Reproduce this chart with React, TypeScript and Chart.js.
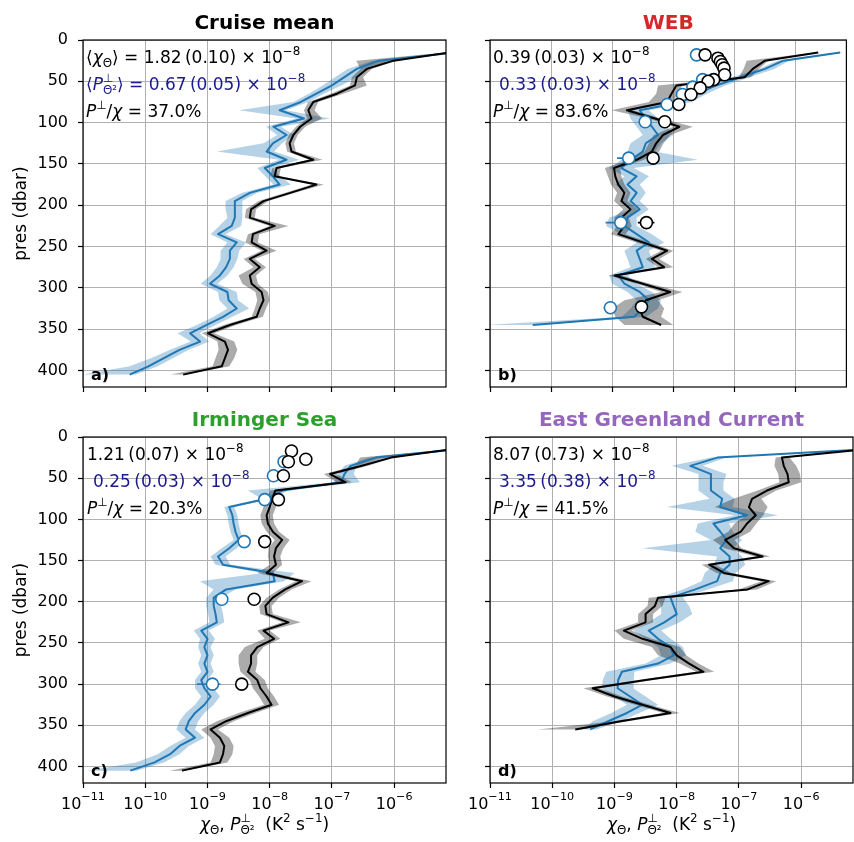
import React, { useEffect, useRef } from "react";
import { Chart, registerables } from "chart.js";

Chart.register(...registerables);

const FONT = "'DejaVu Sans', 'Noto Sans', sans-serif";
const BLUE = "#1f77b4";
const NAVY = "#1a1a8c";
const GRID = "#b0b0b0";
const W = 854;
const H = 842;

// ---- axes ----
const X_TICKS = [1e-11, 1e-10, 1e-9, 1e-8, 1e-7, 1e-6];
const X_TICK_EXP = ["−11", "−10", "−9", "−8", "−7", "−6"];
const Y_TICKS = [0, 50, 100, 150, 200, 250, 300, 350, 400];
const X_MIN = 1e-11;
const X_MAX = 6.8e-6;
const Y_MIN = 0;
const Y_MAX = 420;

// ---- pressure levels (dbar) ----
const PRES_FULL = [15, 25, 35, 45, 55, 65, 75, 85, 95, 105, 115, 125, 135, 145, 155, 165, 175, 185, 195, 205, 215, 225, 235, 245, 255, 265, 275, 285, 295, 305, 315, 325, 335, 345, 355, 365, 375, 385, 395, 405];
const PRES_WEB = [15, 25, 35, 45, 55, 65, 75, 85, 95, 105, 115, 125, 135, 145, 155, 165, 175, 185, 195, 205, 215, 225, 235, 245, 255, 265, 275, 285, 295, 305, 315, 325, 335, 345];
const PRES_EGC = [15, 25, 35, 45, 55, 65, 75, 85, 95, 105, 115, 125, 135, 145, 155, 165, 175, 185, 195, 205, 215, 225, 235, 245, 255, 265, 275, 285, 295, 305, 315, 325, 335, 345, 355];

// ---- values are log10(K^2 s^-1); band widths in decades ----
// a) Cruise mean
const MEAN_CHI = [-5.1, -6.01, -6.44, -6.6, -6.63, -6.92, -7.3, -7.38, -7.33, -7.51, -7.62, -7.68, -7.65, -7.3, -7.89, -7.92, -7.25, -7.67, -8.1, -8.3, -8.32, -7.92, -8.27, -8.29, -8.05, -8.32, -8.16, -8.32, -8.29, -8.13, -8.1, -8.16, -8.21, -8.64, -8.99, -8.72, -8.67, -8.72, -8.77, -9.39];
const MEAN_CHI_LO = [0.05, 0.6, 0.1, 0.08, 0.08, 0.1, 0.08, 0.07, 0.07, 0.07, 0.07, 0.07, 0.07, 0.07, 0.07, 0.07, 0.07, 0.08, 0.08, 0.08, 0.08, 0.08, 0.08, 0.1, 0.08, 0.1, 0.1, 0.18, 0.15, 0.1, 0.1, 0.08, 0.08, 0.1, 0.1, 0.12, 0.15, 0.15, 0.15, 0.2];
const MEAN_CHI_HI = [0.05, 0.05, 0.08, 0.1, 0.19, 0.1, 0.08, 0.1, 0.17, 0.08, 0.07, 0.07, 0.07, 0.15, 0.07, 0.07, 0.12, 0.08, 0.08, 0.08, 0.08, 0.22, 0.1, 0.1, 0.16, 0.08, 0.1, 0.1, 0.1, 0.1, 0.1, 0.1, 0.1, 0.1, 0.1, 0.15, 0.15, 0.15, 0.12, 0.05];
const MEAN_PERP = [-5.0, -6.25, -6.6, -6.8, -7.0, -7.25, -7.5, -7.84, -7.45, -7.94, -7.73, -7.95, -8.05, -7.73, -8.08, -7.95, -7.84, -8.32, -8.56, -8.56, -8.56, -8.61, -8.83, -8.53, -8.64, -8.64, -8.7, -8.8, -8.96, -8.68, -8.66, -8.53, -8.75, -9.02, -9.28, -9.12, -9.45, -9.7, -9.95, -10.25];
const MEAN_PERP_LO = [0.05, 0.1, 0.15, 0.15, 0.15, 0.12, 0.12, 0.65, 0.12, 0.12, 0.15, 0.15, 0.8, 0.12, 0.12, 0.12, 0.1, 0.12, 0.15, 0.15, 0.12, 0.2, 0.12, 0.15, 0.15, 0.15, 0.15, 0.15, 0.15, 0.15, 0.15, 0.15, 0.15, 0.15, 0.2, 0.15, 0.15, 0.2, 0.3, 0.75];
const MEAN_PERP_HI = [0.05, 0.15, 0.2, 0.2, 0.15, 0.12, 0.12, 0.1, 0.42, 0.12, 0.12, 0.15, 0.12, 0.2, 0.12, 0.12, 0.18, 0.12, 0.12, 0.12, 0.12, 0.15, 0.12, 0.15, 0.15, 0.12, 0.12, 0.12, 0.12, 0.15, 0.15, 0.2, 0.15, 0.15, 0.15, 0.15, 0.15, 0.15, 0.15, 0.1];

// b) WEB
const WEB_CHI = [-5.63, -6.5, -6.7, -6.83, -7.95, -8.03, -8.1, -8.76, -8.3, -7.9, -8.17, -8.28, -8.35, -8.6, -8.97, -8.95, -8.9, -8.8, -8.85, -8.7, -8.85, -8.8, -8.9, -8.5, -8.1, -8.35, -8.15, -8.96, -8.5, -8.05, -8.45, -8.55, -8.5, -8.2];
const WEB_CHI_LO = [0.05, 0.3, 0.15, 0.1, 0.3, 0.25, 0.3, 0.25, 0.1, 0.1, 0.15, 0.12, 0.12, 0.12, 0.15, 0.12, 0.12, 0.12, 0.12, 0.12, 0.12, 0.12, 0.12, 0.1, 0.1, 0.1, 0.1, 0.1, 0.1, 0.15, 0.35, 0.45, 0.45, 0.6];
const WEB_CHI_HI = [0.05, 0.05, 0.1, 0.1, 0.1, 0.1, 0.1, 0.1, 0.1, 0.22, 0.12, 0.12, 0.12, 0.12, 0.1, 0.1, 0.1, 0.1, 0.1, 0.12, 0.12, 0.12, 0.12, 0.12, 0.1, 0.12, 0.15, 0.1, 0.12, 0.2, 0.2, 0.4, 0.3, 0.2];
const WEB_PERP = [-5.27, -6.2, -6.5, -6.9, -7.3, -7.6, -7.85, -8.55, -8.45, -8.35, -8.25, -8.45, -8.5, -8.7, -8.85, -8.6, -8.75, -8.6, -8.7, -8.55, -8.75, -8.8, -8.6, -8.4, -8.6, -8.55, -8.5, -8.9, -8.8, -8.55, -8.4, -8.5, -8.64, -10.3];
const WEB_PERP_LO = [0.05, 0.1, 0.1, 0.15, 0.15, 0.15, 0.15, 0.2, 0.25, 0.25, 0.25, 0.25, 0.25, 0.15, 0.2, 0.2, 0.2, 0.15, 0.15, 0.15, 0.3, 0.3, 0.25, 0.2, 0.2, 0.2, 0.2, 0.15, 0.2, 0.2, 0.2, 0.2, 0.2, 0.75];
const WEB_PERP_HI = [0.05, 0.1, 0.15, 0.15, 0.15, 0.15, 0.15, 0.15, 0.2, 0.25, 0.25, 0.25, 0.2, 1.1, 0.2, 0.2, 0.2, 0.15, 0.15, 0.15, 0.15, 0.2, 0.25, 0.25, 0.2, 0.2, 0.2, 0.15, 0.2, 0.2, 0.2, 0.25, 0.2, 0.1];
const WEB_CHI_DOT_P = [18, 22, 26, 30, 34, 42, 48, 50, 58, 66, 78, 99, 143, 221, 323];
const WEB_CHI_DOT_V = [-7.48, -7.27, -7.23, -7.2, -7.17, -7.16, -7.34, -7.43, -7.56, -7.71, -7.91, -8.14, -8.33, -8.44, -8.52];
const WEB_PERP_DOT_P = [18, 48, 57, 66, 78, 99, 143, 221, 324];
const WEB_PERP_DOT_V = [-7.62, -7.52, -7.68, -7.85, -8.1, -8.46, -8.73, -8.86, -9.03];
const WEB_CHI_ERR_P = [221, 323];
const WEB_CHI_ERR_LO = [-8.58, -8.63];
const WEB_CHI_ERR_HI = [-8.31, -8.44];
const WEB_PERP_ERR_P = [143, 221, 324];
const WEB_PERP_ERR_LO = [-8.92, -9.11, -9.14];
const WEB_PERP_ERR_HI = [-8.6, -8.74, -8.95];

// c) Irminger Sea
const IRM_CHI = [-5.1, -6.05, -6.52, -7.03, -6.78, -7.91, -7.96, -8.0, -8.05, -8.03, -7.95, -7.8, -7.9, -7.93, -7.9, -8.05, -7.48, -7.75, -7.95, -8.07, -8.05, -7.7, -8.1, -7.93, -8.2, -8.3, -8.3, -8.35, -8.2, -8.15, -8.05, -7.97, -8.35, -8.7, -8.95, -8.8, -8.73, -8.75, -8.8, -9.41];
const IRM_CHI_LO = [0.05, 0.5, 0.1, 0.1, 0.15, 0.08, 0.08, 0.1, 0.1, 0.1, 0.1, 0.12, 0.12, 0.1, 0.1, 0.15, 0.1, 0.1, 0.1, 0.1, 0.1, 0.1, 0.1, 0.15, 0.2, 0.2, 0.2, 0.12, 0.12, 0.12, 0.12, 0.12, 0.15, 0.15, 0.15, 0.15, 0.15, 0.15, 0.15, 0.2];
const IRM_CHI_HI = [0.05, 0.05, 0.1, 0.1, 0.1, 0.08, 0.08, 0.1, 0.1, 0.1, 0.1, 0.12, 0.12, 0.1, 0.1, 0.1, 0.15, 0.1, 0.1, 0.1, 0.1, 0.2, 0.1, 0.1, 0.1, 0.1, 0.1, 0.12, 0.12, 0.12, 0.12, 0.12, 0.12, 0.12, 0.12, 0.15, 0.15, 0.15, 0.12, 0.05];
const IRM_PERP = [-5.0, -6.3, -6.7, -6.8, -6.85, -7.8, -8.05, -8.65, -8.6, -8.58, -8.55, -8.5, -8.65, -8.83, -8.75, -7.95, -7.92, -8.7, -8.9, -8.9, -8.87, -8.85, -9.1, -9.0, -9.05, -9.0, -9.05, -9.0, -9.1, -9.05, -8.95, -9.05, -9.2, -9.3, -9.35, -9.2, -9.45, -9.6, -9.85, -10.24];
const IRM_PERP_LO = [0.05, 0.1, 0.1, 0.1, 0.12, 0.55, 0.08, 0.08, 0.08, 0.08, 0.08, 0.08, 0.12, 0.12, 0.12, 0.15, 1.2, 0.2, 0.12, 0.12, 0.12, 0.12, 0.12, 0.12, 0.1, 0.1, 0.1, 0.1, 0.1, 0.15, 0.15, 0.15, 0.15, 0.15, 0.15, 0.15, 0.15, 0.2, 0.3, 0.7];
const IRM_PERP_HI = [0.05, 0.1, 0.1, 0.15, 0.3, 0.1, 0.08, 0.08, 0.08, 0.08, 0.08, 0.08, 0.12, 0.12, 0.12, 0.35, 0.15, 0.15, 0.12, 0.12, 0.12, 0.12, 0.12, 0.12, 0.1, 0.1, 0.1, 0.1, 0.1, 0.15, 0.15, 0.15, 0.15, 0.15, 0.15, 0.15, 0.15, 0.15, 0.15, 0.1];
const IRM_CHI_DOT_P = [17, 27, 30, 47, 76, 127, 197, 300];
const IRM_CHI_DOT_V = [-7.65, -7.42, -7.7, -7.78, -7.86, -8.08, -8.25, -8.45];
const IRM_PERP_DOT_P = [30, 47, 76, 127, 197, 300];
const IRM_PERP_DOT_V = [-7.77, -7.94, -8.08, -8.41, -8.77, -8.92];
const IRM_PERP_ERR_P = [300];
const IRM_PERP_ERR_LO = [-9.17];
const IRM_PERP_ERR_HI = [-8.79];

// d) East Greenland Current
const EGC_CHI = [-5.0, -6.31, -6.28, -6.22, -6.2, -6.55, -6.79, -6.84, -6.73, -6.87, -6.97, -7.22, -7.08, -6.62, -7.48, -7.24, -6.52, -6.86, -8.3, -8.35, -8.5, -8.5, -8.85, -8.55, -8.1, -8.0, -7.8, -7.57, -8.5, -9.35, -9.0, -8.55, -8.1, -8.9, -9.63];
const EGC_CHI_LO = [0.05, 0.1, 0.15, 0.15, 0.15, 0.15, 0.3, 0.55, 0.15, 0.2, 0.2, 0.2, 0.15, 0.12, 0.12, 0.12, 0.12, 0.15, 0.15, 0.12, 0.12, 0.12, 0.15, 0.3, 0.3, 0.3, 0.15, 0.12, 0.12, 0.15, 0.12, 0.12, 0.12, 0.12, 0.6];
const EGC_CHI_HI = [0.05, 0.12, 0.2, 0.2, 0.2, 0.15, 0.15, 0.3, 0.12, 0.15, 0.15, 0.15, 0.12, 0.12, 0.1, 0.12, 0.12, 0.15, 0.12, 0.12, 0.12, 0.12, 0.12, 0.15, 0.15, 0.15, 0.15, 0.17, 0.12, 0.12, 0.12, 0.12, 0.15, 0.12, 0.1];
const EGC_PERP = [-5.0, -7.35, -7.78, -7.45, -7.45, -7.45, -7.27, -7.3, -6.87, -7.41, -7.3, -7.2, -7.3, -7.15, -7.15, -7.3, -7.35, -7.7, -8.1, -8.05, -8.0, -8.2, -8.45, -8.3, -8.1, -8.05, -8.3, -8.88, -8.94, -8.95, -8.75, -8.55, -8.8, -9.1, -9.39];
const EGC_PERP_LO = [0.05, 0.1, 0.3, 0.2, 0.2, 0.2, 0.2, 0.86, 0.2, 0.25, 0.4, 0.25, 1.25, 0.2, 0.25, 0.25, 0.25, 0.2, 0.2, 0.2, 0.25, 0.25, 0.25, 0.2, 0.2, 0.2, 0.2, 0.25, 0.25, 0.25, 0.25, 0.25, 0.25, 0.25, 0.1];
const EGC_PERP_HI = [0.05, 0.15, 0.2, 0.25, 0.2, 0.2, 0.2, 0.2, 0.5, 0.25, 0.2, 0.25, 0.2, 0.2, 0.25, 0.25, 0.25, 0.2, 0.2, 0.25, 0.25, 0.25, 0.2, 0.2, 0.2, 0.2, 0.2, 0.2, 0.25, 0.25, 0.25, 0.25, 0.2, 0.2, 0.1];

// ---- rich text ----
type Run = { t: string; k?: "sub" | "sup" | "supNoAdv"; it?: boolean };
const SUP = (t: string): Run => ({ t, k: "sup" });
const SUB = (t: string): Run => ({ t, k: "sub" });

const X_TITLE: Run[] = [
  { t: "χ", it: true }, SUB("Θ"), { t: ", " }, { t: "P", it: true },
  { t: "⊥", k: "supNoAdv" }, SUB("Θ²"), { t: "  (K" }, SUP("2"), { t: " s" }, SUP("−1"), { t: ")" },
];
const X_TICK_RUNS: Run[][] = X_TICK_EXP.map((e) => [{ t: "10" }, SUP(e)]);

const notePair = (v: string, e: string): Run[] => [{ t: `${v}\u2009(${e}) × 10` }, SUP("−8")];
const ratio = (pct: string): Run[] => [{ t: "P", it: true }, SUP("⊥"), { t: "/" }, { t: "χ", it: true }, { t: ` = ${pct}%` }];

const NOTE_DY = [23, 50, 77];

function drawRuns(ctx: CanvasRenderingContext2D, runs: Run[], x: number, y: number, size: number, color: string, align: "left" | "center", supRaise = 0.45) {
  const fontOf = (r: Run) => `${r.it ? "italic " : ""}${r.k ? Math.round(size * 0.7 * 10) / 10 : size}px ${FONT}`;
  let total = 0;
  const ws = runs.map((r) => {
    ctx.font = fontOf(r);
    const w = ctx.measureText(r.t).width;
    if (r.k !== "supNoAdv") total += w;
    return w;
  });
  let cx = align === "center" ? x - total / 2 : x;
  ctx.fillStyle = color;
  ctx.textAlign = "left";
  ctx.textBaseline = "alphabetic";
  runs.forEach((r, i) => {
    ctx.font = fontOf(r);
    const dy = r.k === "sub" ? size * 0.24 : r.k ? -size * supRaise : 0;
    ctx.fillText(r.t, cx, y + dy);
    if (r.k !== "supNoAdv") cx += ws[i];
  });
}

// ---- panels ----
const PANELS: any[] = [
  {
    key: "a", title: "Cruise mean", titleColor: "#000", letter: "a)",
    area: { left: 83, top: 40, right: 446, bottom: 387 }, showX: false, showY: true,
    pres: PRES_FULL, chi: MEAN_CHI, chiLo: MEAN_CHI_LO, chiHi: MEAN_CHI_HI,
    perp: MEAN_PERP, perpLo: MEAN_PERP_LO, perpHi: MEAN_PERP_HI,
    notes: [
      [{ t: "⟨" }, { t: "χ", it: true }, SUB("Θ"), { t: "⟩ = 1.82\u2009(0.10) × 10" }, SUP("−8")],
      [{ t: "⟨" }, { t: "P", it: true }, { t: "⊥", k: "supNoAdv" }, SUB("Θ²"), { t: "⟩ = 0.67\u2009(0.05) × 10" }, SUP("−8")],
      ratio("37.0"),
    ],
    noteDx: [3, 3, 3],
  },
  {
    key: "b", title: "WEB", titleColor: "#d62728", letter: "b)",
    area: { left: 490, top: 40, right: 853, bottom: 387 }, showX: false, showY: false,
    pres: PRES_WEB, chi: WEB_CHI, chiLo: WEB_CHI_LO, chiHi: WEB_CHI_HI,
    perp: WEB_PERP, perpLo: WEB_PERP_LO, perpHi: WEB_PERP_HI,
    chiDotP: WEB_CHI_DOT_P, chiDotV: WEB_CHI_DOT_V, perpDotP: WEB_PERP_DOT_P, perpDotV: WEB_PERP_DOT_V,
    chiErrP: WEB_CHI_ERR_P, chiErrLo: WEB_CHI_ERR_LO, chiErrHi: WEB_CHI_ERR_HI,
    perpErrP: WEB_PERP_ERR_P, perpErrLo: WEB_PERP_ERR_LO, perpErrHi: WEB_PERP_ERR_HI,
    notes: [notePair("0.39", "0.03"), notePair("0.33", "0.03"), ratio("83.6")],
    noteDx: [3, 9, 3],
  },
  {
    key: "c", title: "Irminger Sea", titleColor: "#2ca02c", letter: "c)",
    area: { left: 83, top: 437, right: 446, bottom: 783 }, showX: true, showY: true,
    pres: PRES_FULL, chi: IRM_CHI, chiLo: IRM_CHI_LO, chiHi: IRM_CHI_HI,
    perp: IRM_PERP, perpLo: IRM_PERP_LO, perpHi: IRM_PERP_HI,
    chiDotP: IRM_CHI_DOT_P, chiDotV: IRM_CHI_DOT_V, perpDotP: IRM_PERP_DOT_P, perpDotV: IRM_PERP_DOT_V,
    perpErrP: IRM_PERP_ERR_P, perpErrLo: IRM_PERP_ERR_LO, perpErrHi: IRM_PERP_ERR_HI,
    notes: [notePair("1.21", "0.07"), notePair("0.25", "0.03"), ratio("20.3")],
    noteDx: [4, 10, 4],
  },
  {
    key: "d", title: "East Greenland Current", titleColor: "#9467bd", letter: "d)",
    area: { left: 490, top: 437, right: 853, bottom: 783 }, showX: true, showY: false,
    pres: PRES_EGC, chi: EGC_CHI, chiLo: EGC_CHI_LO, chiHi: EGC_CHI_HI,
    perp: EGC_PERP, perpLo: EGC_PERP_LO, perpHi: EGC_PERP_HI,
    notes: [notePair("8.07", "0.73"), notePair("3.35", "0.38"), ratio("41.5")],
    noteDx: [3, 9, 3],
  },
];

const pow = (v: number) => Math.pow(10, v);

function buildDatasets(pn: any) {
  const ds: any[] = [];
  const dots = (P: number[], V: number[], color: string) => ({
    data: P.map((p, i) => ({ x: pow(V[i]), y: p })),
    showLine: false, pointRadius: 6, pointHoverRadius: 6,
    pointBackgroundColor: "#ffffff", pointBorderColor: color, pointBorderWidth: 1.6,
  });
  const errs = (P: number[], LO: number[], HI: number[], color: string) =>
    P.map((p, i) => ({
      data: [{ x: pow(LO[i]), y: p }, { x: pow(HI[i]), y: p }],
      showLine: true, borderColor: color, borderWidth: 1.6, pointRadius: 0, pointHoverRadius: 0, fill: false,
    }));
  const line = (P: number[], V: number[], color: string) => ({
    data: P.map((p, i) => ({ x: pow(V[i]), y: p })),
    showLine: true, borderColor: color, borderWidth: 2, pointRadius: 0, pointHoverRadius: 0,
    borderJoinStyle: "round", fill: false, tension: 0,
  });
  const band = (P: number[], V: number[], LO: number[], HI: number[], color: string) => ({
    data: [
      ...P.map((p, i) => ({ x: pow(V[i] - LO[i]), y: p })),
      ...P.map((p, i) => ({ x: pow(V[i] + HI[i]), y: p })).reverse(),
    ],
    showLine: true, borderColor: "rgba(0,0,0,0)", borderWidth: 0, pointRadius: 0, pointHoverRadius: 0,
    backgroundColor: color, fill: "shape", tension: 0,
  });
  if (pn.chiDotP) ds.push(dots(pn.chiDotP, pn.chiDotV, "#000000"));
  if (pn.perpDotP) ds.push(dots(pn.perpDotP, pn.perpDotV, BLUE));
  if (pn.chiErrP) ds.push(...errs(pn.chiErrP, pn.chiErrLo, pn.chiErrHi, "#000000"));
  if (pn.perpErrP) ds.push(...errs(pn.perpErrP, pn.perpErrLo, pn.perpErrHi, BLUE));
  ds.push(line(pn.pres, pn.chi, "#000000"));
  ds.push(line(pn.pres, pn.perp, BLUE));
  ds.push(band(pn.pres, pn.chi, pn.chiLo, pn.chiHi, "rgba(0,0,0,0.33)"));
  ds.push(band(pn.pres, pn.perp, pn.perpLo, pn.perpHi, "rgba(31,119,180,0.33)"));
  return ds;
}

function makeDecor(pn: any) {
  return {
    id: "decor_" + pn.key,
    afterDraw(chart: any) {
      const ctx: CanvasRenderingContext2D = chart.ctx;
      const a = chart.chartArea;
      ctx.save();
      ctx.strokeStyle = "#000";
      ctx.lineWidth = 1.2;
      ctx.strokeRect(a.left, a.top, a.right - a.left, a.bottom - a.top);
      ctx.font = `bold 20px ${FONT}`;
      ctx.fillStyle = pn.titleColor;
      ctx.textAlign = "center";
      ctx.textBaseline = "alphabetic";
      ctx.fillText(pn.title, (a.left + a.right) / 2, a.top - 11);
      ctx.font = `bold 16px ${FONT}`;
      ctx.fillStyle = "#000";
      ctx.textAlign = "left";
      ctx.fillText(pn.letter, a.left + 8, a.bottom - 7);
      pn.notes.forEach((runs: Run[], i: number) =>
        drawRuns(ctx, runs, a.left + pn.noteDx[i], a.top + NOTE_DY[i], 17, i === 1 ? NAVY : "#000", "left"));
      if (pn.showX) {
        const xs = chart.scales.x;
        X_TICKS.forEach((v, i) =>
          drawRuns(ctx, X_TICK_RUNS[i], xs.getPixelForValue(v), a.bottom + 26, 16, "#000", "center", 0.55));
        drawRuns(ctx, X_TITLE, (a.left + a.right) / 2, a.bottom + 47, 17, "#000", "center");
      }
      ctx.restore();
    },
  };
}

function buildConfig(pn: any): any {
  const yW = pn.showY ? 83 : 10;
  const xH = pn.showX ? 50 : 10;
  return {
    type: "scatter",
    data: { datasets: buildDatasets(pn) },
    options: {
      responsive: false,
      animation: false,
      devicePixelRatio: 1,
      events: [],
      layout: {
        padding: { left: pn.area.left - yW, top: pn.area.top, right: W - pn.area.right, bottom: H - pn.area.bottom - xH },
      },
      plugins: { legend: { display: false }, tooltip: { enabled: false }, title: { display: false } },
      scales: {
        x: {
          type: "logarithmic", min: X_MIN, max: X_MAX,
          afterBuildTicks: (s: any) => { s.ticks = X_TICKS.map((v) => ({ value: v })); },
          afterFit: (s: any) => { s.height = xH; },
          grid: { color: GRID, lineWidth: 1, drawTicks: true, tickLength: 5, tickColor: "#000", tickWidth: 1.2 },
          border: { display: false },
          ticks: { display: false },
        },
        y: {
          type: "linear", reverse: true, min: Y_MIN, max: Y_MAX,
          afterBuildTicks: (s: any) => { s.ticks = Y_TICKS.map((v) => ({ value: v })); },
          afterFit: (s: any) => { s.width = yW; },
          grid: { color: GRID, lineWidth: 1, drawTicks: true, tickLength: 5, tickColor: "#000", tickWidth: 1.2 },
          border: { display: false },
          title: {
            display: pn.showY, text: "pres (dbar)", color: "#000",
            font: { family: FONT, size: 17 }, padding: { top: 11, bottom: 0 },
          },
          ticks: {
            display: pn.showY, padding: 10, color: "#000",
            font: { family: FONT, size: 16 },
            callback: (v: any) => String(v),
          },
        },
      },
    },
    plugins: [makeDecor(pn)],
  };
}

function PanelChart({ pn }: { pn: any }) {
  const ref = useRef<HTMLCanvasElement>(null);
  useEffect(() => {
    const canvas = ref.current;
    if (!canvas) return;
    const chart = new Chart(canvas, buildConfig(pn));
    return () => chart.destroy();
  }, [pn]);
  return (
    <canvas
      ref={ref}
      width={W}
      height={H}
      style={{ position: "absolute", left: 0, top: 0, width: W, height: H }}
    />
  );
}

export default function App() {
  return (
    <div style={{ position: "absolute", left: 0, top: 0, width: W, height: H, background: "#ffffff" }}>
      {PANELS.map((pn) => (
        <PanelChart key={pn.key} pn={pn} />
      ))}
    </div>
  );
}
